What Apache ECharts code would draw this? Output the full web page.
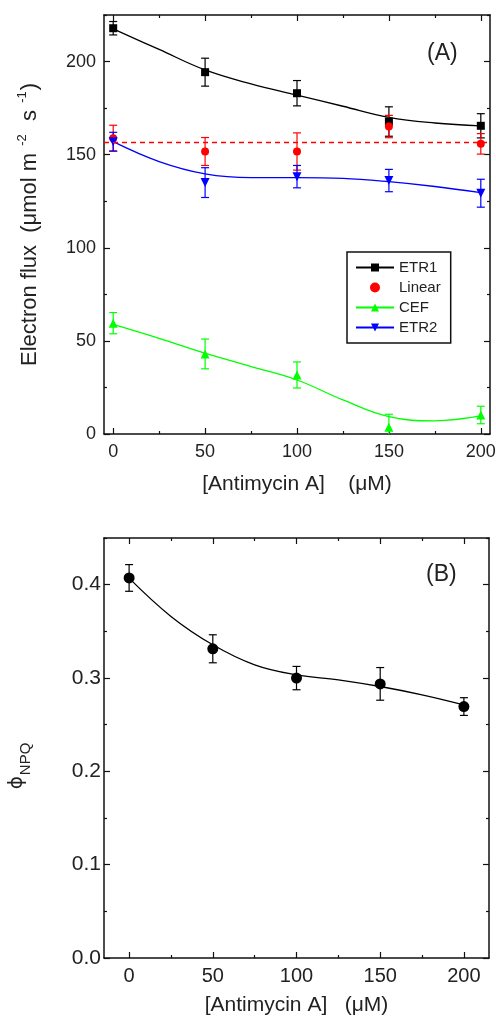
<!DOCTYPE html>
<html>
<head>
<meta charset="utf-8">
<script src="https://cdn.jsdelivr.net/npm/echarts@6/dist/echarts.min.js"></script>
<style>
html,body{margin:0;padding:0;background:#fff;}
#chart{width:496px;height:1024px;}
</style>
</head>
<body>
<div id="chart"></div>
<script>
// ---------- data ----------
const xVals = [0, 50, 100, 150, 200];
const fitX = [0, 25, 50, 75, 100, 125, 150, 175, 200];

const etr1 = [217.9, 194.3, 183.0, 167.8, 165.5];
const etr1Err = [3.6, 7.5, 6.8, 7.9, 6.5];
const etr1Fit = [217.5, 206.5, 195.5, 188.0, 182.0, 176.0, 170.0, 167.0, 165.5];

const linear = [158.8, 151.7, 151.7, 165.1, 155.8];
const linearErr = [7.0, 7.5, 10.0, 6.0, 5.5];
const linearMean = 156.6;

const cef = [59.5, 43.0, 31.7, 3.6, 10.2];
const cefErr = [5.7, 8.0, 7.0, 7.0, 4.7];
const cefFit = [58.9, 51.4, 43.4, 36.2, 29.0, 18.3, 9.3, 7.1, 9.7];

const etr2 = [157.0, 135.0, 138.2, 136.1, 129.3];
const etr2Err = [5.0, 8.0, 6.0, 6.0, 7.5];
const etr2Fit = [157.0, 146.3, 139.7, 137.7, 137.7, 137.3, 135.5, 132.9, 129.6];

const npq = [0.4072, 0.3313, 0.2999, 0.2937, 0.2694];
const npqErr = [0.0143, 0.015, 0.0125, 0.0175, 0.0095];
const npqFit = [0.407, 0.366, 0.3356, 0.3141, 0.3034, 0.2981, 0.2909, 0.2820, 0.2712];

const xMajor = [0, 50, 100, 150, 200];
const xMinor = [25, 75, 125, 175];
const yMajorA = [0, 50, 100, 150, 200];
const yMinorA = [25, 75, 125, 175, 225];
const yMajorB = [0, 0.1, 0.2, 0.3, 0.4];
const yMinorB = [0.05, 0.15, 0.25, 0.35, 0.45];

// ---------- helpers ----------
const FONT = 'Liberation Sans';
const pairs = (xs, ys) => xs.map((x, i) => [x, ys[i]]);
const errData = (xs, ys, es) => xs.map((x, i) => [x, ys[i] - es[i], ys[i] + es[i]]);

function axisSet(dim, gridIndex, min, max, majors, minors, labelMargin, labelSize, fmt, nameOpt) {
  const out = [];
  const pos = dim === 'x' ? ['bottom', 'top'] : ['left', 'right'];
  pos.forEach((p, k) => {
    [majors, minors].forEach((vals, m) => {
      const ax = {
        type: 'value', gridIndex, position: p, min, max,
        axisLine: {show: m === 0, onZero: false, lineStyle: {color: '#111', width: 1.5}},
        axisTick: {show: true, inside: true, length: m === 0 ? 6 : 3, customValues: vals,
                   lineStyle: {color: '#111', width: 1.2}},
        axisLabel: {show: k === 0 && m === 0, customValues: vals, margin: labelMargin,
                    fontFamily: FONT, fontSize: labelSize, color: '#222', formatter: fmt},
        splitLine: {show: false}
      };
      if (k === 0 && m === 0 && nameOpt) Object.assign(ax, nameOpt);
      out.push(ax);
    });
  });
  return out;
}

function errSeries(xs, ys, es, color, axIdx) {
  return {
    type: 'custom', xAxisIndex: axIdx, yAxisIndex: axIdx, clip: true, z: 3,
    data: errData(xs, ys, es),
    encode: {x: 0, y: [1, 2]},
    renderItem: (params, api) => {
      const x = api.value(0);
      const a = api.coord([x, api.value(2)]);
      const b = api.coord([x, api.value(1)]);
      const w = 4;
      const st = {stroke: color, lineWidth: 1.2};
      return {type: 'group', children: [
        {type: 'line', shape: {x1: a[0], y1: a[1], x2: b[0], y2: b[1]}, style: st},
        {type: 'line', shape: {x1: a[0] - w, y1: a[1], x2: a[0] + w, y2: a[1]}, style: st},
        {type: 'line', shape: {x1: b[0] - w, y1: b[1], x2: b[0] + w, y2: b[1]}, style: st}
      ]};
    }
  };
}

function fitSeries(name, ys, color, symbol, rot, axIdx) {
  return {
    name, type: 'line', xAxisIndex: axIdx, yAxisIndex: axIdx,
    data: pairs(fitX, ys), smooth: 0.4, showSymbol: false,
    symbol, symbolSize: 9, symbolRotate: rot,
    lineStyle: {color, width: 1.3}, itemStyle: {color}, z: 2, silent: true
  };
}

function ptSeries(name, ys, color, symbol, size, rot, axIdx) {
  return {
    name, type: 'scatter', xAxisIndex: axIdx, yAxisIndex: axIdx,
    data: pairs(xVals, ys), symbol, symbolSize: size, symbolRotate: rot,
    itemStyle: {color, opacity: 1}, z: 4
  };
}

const nameStyleX = {fontFamily: FONT, fontSize: 21, color: '#222'};

const xAxes = [].concat(
  axisSet('x', 0, -5, 205, xMajor, xMinor, 9, 18, null, {
    name: '[Antimycin A]    (\u03bcM)', nameLocation: 'middle', nameGap: 40, nameTextStyle: nameStyleX
  }),
  axisSet('x', 1, -15, 215, xMajor, xMinor, 8, 20, null, {
    name: '[Antimycin A]   (\u03bcM)', nameLocation: 'middle', nameGap: 37, nameTextStyle: nameStyleX
  })
);
const yAxes = [].concat(
  axisSet('y', 0, 0, 225, yMajorA, yMinorA, 8, 18, null, {
    name: '{a|Electron flux  (\u03bcmol m }{s|-2}{a|  s }{s|-1}{a|)}',
    nameLocation: 'middle', nameGap: 62, nameRotate: 90,
    nameTextStyle: {color: '#222', rich: {
      a: {fontFamily: FONT, fontSize: 22, color: '#222', lineHeight: 24},
      s: {fontFamily: FONT, fontSize: 13, color: '#222', lineHeight: 13, padding: [0, 1, 16, 1]}
    }}
  }),
  axisSet('y', 1, 0, 0.45, yMajorB, yMinorB, 3, 21, v => v.toFixed(1), {
    name: '{p|\u03d5}{s|NPQ}',
    nameLocation: 'middle', nameGap: 76, nameRotate: 90,
    nameTextStyle: {color: '#222', padding: [0, 36, 0, 0], rich: {
      p: {fontFamily: 'DejaVu Sans', fontSize: 20, color: '#222', lineHeight: 22},
      s: {fontFamily: FONT, fontSize: 15, color: '#222', lineHeight: 16, padding: [18, 0, 0, 1]}
    }}
  })
);

const option = {
  backgroundColor: '#fff',
  animation: false,
  grid: [
    {left: 104, right: 6, top: 15, bottom: 590, outerBoundsMode: 'none'},
    {left: 104, right: 7, top: 538, bottom: 66, outerBoundsMode: 'none'}
  ],
  xAxis: xAxes,
  yAxis: yAxes,
  legend: {
    data: ['ETR1', 'Linear', 'CEF', 'ETR2'],
    orient: 'vertical', left: 347, top: 252,
    padding: [8, 10, 8, 8], itemGap: 5, itemWidth: 38, itemHeight: 10,
    borderColor: '#111', borderWidth: 1.5, backgroundColor: '#fff',
    textStyle: {fontFamily: FONT, fontSize: 15, color: '#222', lineHeight: 15},
    selectedMode: false
  },
  graphic: [
    {type: 'text', left: 427, top: 42, style: {text: '(A)', fontFamily: FONT, fontSize: 23, fill: '#222'}},
    {type: 'text', left: 426, top: 563, style: {text: '(B)', fontFamily: FONT, fontSize: 23, fill: '#222'}}
  ],
  series: [
    fitSeries('ETR1', etr1Fit, '#000000', 'rect', 0, 0),
    errSeries(xVals, etr1, etr1Err, '#000000', 0),
    ptSeries('ETR1 data', etr1, '#000000', 'rect', 8, 0, 0),
    Object.assign(ptSeries('Linear', linear, '#ff0000', 'circle', 8, 0, 0), {
      markLine: {silent: true, symbol: 'none', label: {show: false},
                 lineStyle: {color: '#ff0000', type: [5, 4], width: 1.3},
                 data: [{yAxis: linearMean}]}
    }),
    errSeries(xVals, linear, linearErr, '#ff0000', 0),
    fitSeries('CEF', cefFit, '#00ff00', 'triangle', 0, 0),
    errSeries(xVals, cef, cefErr, '#00ff00', 0),
    ptSeries('CEF data', cef, '#00ff00', 'triangle', 9, 0, 0),
    fitSeries('ETR2', etr2Fit, '#0000ff', 'triangle', 180, 0),
    errSeries(xVals, etr2, etr2Err, '#0000ff', 0),
    ptSeries('ETR2 data', etr2, '#0000ff', 'triangle', 9, 180, 0),
    fitSeries('NPQ fit', npqFit, '#000000', 'none', 0, 4),
    errSeries(xVals, npq, npqErr, '#000000', 4),
    ptSeries('NPQ', npq, '#000000', 'circle', 11, 0, 4)
  ]
};
const chart = echarts.init(document.getElementById('chart'), null, {renderer: 'canvas'});
chart.setOption(option);
</script>
</body>
</html>
